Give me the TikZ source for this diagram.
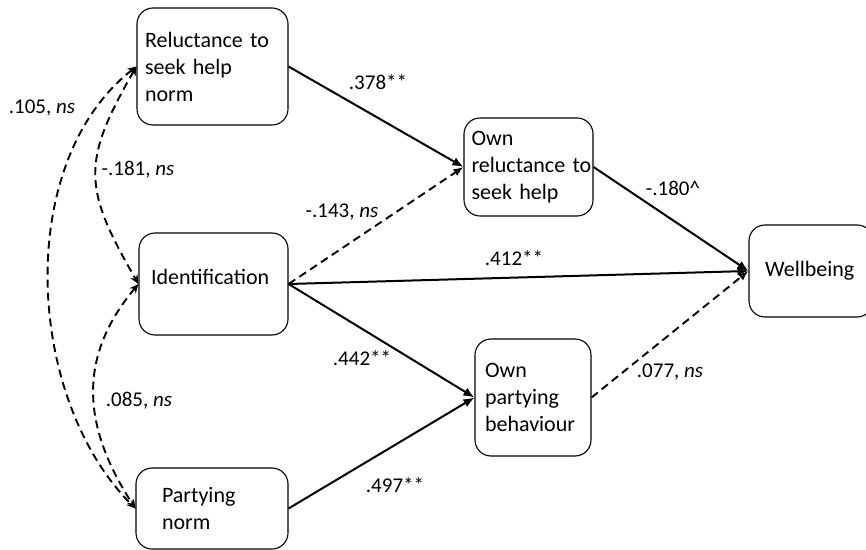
\documentclass[tikz,border=0pt]{standalone}
\usepackage{fontspec}
\setmainfont{Carlito}
\usetikzlibrary{arrows.meta}

\begin{document}
\begin{tikzpicture}[x=1pt, y=1pt,
  box/.style={draw, line width=1.1pt, rounded corners=16pt, align=left, inner ysep=2pt,
    font=\fontsize{22}{27}\selectfont},
  coef/.style={font=\fontsize{21}{25}\selectfont, inner sep=1pt},
  effect/.style={line width=2pt, -{Latex[length=11pt,width=9pt]}},
  nseffect/.style={line width=1.9pt, dash pattern=on 8pt off 5pt, -{Latex[length=10pt,width=8pt,fill=gray]}},
  corr/.style={line width=1.9pt, dash pattern=on 8pt off 5pt,
    {Stealth[length=9pt,width=8pt]}-{Stealth[length=9pt,width=8pt]}}]
  \useasboundingbox (0,0) rectangle (866,549);
  % variables
  \node[box, text width=135pt, inner xsep=8pt, minimum height=117pt] (relnorm) at (212.5,482.5) {Reluctance to\\seek help\\norm};
  \node[box, text width=125pt, inner xsep=12pt, minimum height=102pt, text depth=14pt] (ident) at (213.5,265) {Identification};
  \node[box, text width=100pt, inner xsep=26pt, minimum height=81pt] (pnorm) at (212,40.5) {Partying\\norm};
  \node[box, text width=114pt, inner xsep=7.5pt, minimum height=98pt] (ownrel) at (528.5,382) {Own\\reluctance~to\\seek help};
  \node[box, text width=96pt, inner xsep=10pt, minimum height=117pt] (ownparty) at (533,151.5) {Own\\partying\\behaviour};
  \node[box, text width=92pt, inner xsep=16pt, minimum height=92pt] (well) at (811,278) {Wellbeing};
  % paths
  \draw[effect] (relnorm.east) -- (ownrel.west);
  \draw[nseffect] (ident.east) -- (ownrel.west);
  \draw[effect] (ident.east) -- (well.west);
  \draw[effect] (ident.east) -- (ownparty.west);
  \draw[effect] (pnorm.east) -- (ownparty.west);
  \draw[effect] (ownrel.east) -- (well.west);
  \draw[nseffect] (ownparty.east) -- (well.west);
  % correlations
  \draw[corr] (relnorm.west) to[out=218, in=135, looseness=0.9] (pnorm.west);
  \draw[corr] (relnorm.west) to[out=240, in=120, looseness=1.3] (ident.west);
  \draw[corr] (ident.west) to[out=230, in=123, looseness=1.1] (pnorm.west);
  % coefficients
  \node[coef] (c378) at (378,467) {.378**};
  \node[coef] (c105) at (42,441) {.105, \textit{ns}};
  \node[coef] (c181) at (138,379) {-.181, \textit{ns}};
  \node[coef] (c143) at (342,337) {-.143, \textit{ns}};
  \node[coef] (c442) at (362,191) {.442**};
  \node[coef] (c085) at (139,148) {.085, \textit{ns}};
  \node[coef] (c497) at (395,64) {.497**};
  \node[coef] (c180) at (673,361) {-.180\textasciicircum};
  \node[coef] (c412) at (514,291) {.412**};
  \node[coef] (c077) at (670,177) {.077, \textit{ns}};
\end{tikzpicture}
\end{document}
